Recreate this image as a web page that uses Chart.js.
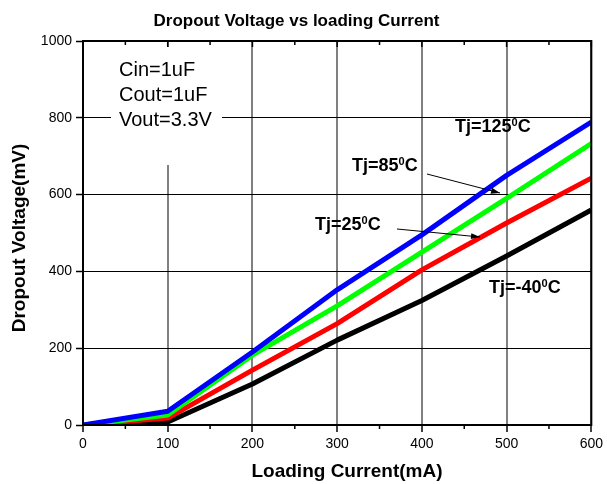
<!DOCTYPE html>
<html>
<head>
<meta charset="utf-8">
<script src="https://cdn.jsdelivr.net/npm/chart.js@4/dist/chart.umd.min.js"></script>
<style>
html,body{margin:0;padding:0;background:#fff;}
#wrap{width:607px;height:484px;}
</style>
</head>
<body>
<div id="wrap"><canvas id="c" width="607" height="484"></canvas></div>
<script>
const currents = [0, 100, 200, 300, 400, 500, 600];
const tj125 = [0, 36, 190, 352, 495, 650, 789];
const tj85  = [0, 26, 182, 310, 450, 590, 733];
const tj25  = [0, 18, 143, 264, 404, 526, 643];
const tjm40 = [0, 8, 107, 221, 324, 440, 560];
const seriesLabels = ['Tj=125', 'Tj=85', 'Tj=25', 'Tj=-40'];
const xTicks = [0, 100, 200, 300, 400, 500, 600];
const yTicks = [0, 200, 400, 600, 800, 1000];
const boxLines = ['Cin=1uF', 'Cout=1uF', 'Vout=3.3V'];

const FONT = '"Liberation Sans", Arial, sans-serif';

function pts(arr){ return currents.map((x,i)=>({x:x, y:arr[i]})); }

const extras = {
  id: 'extras',
  beforeDatasetsDraw(chart){
    const ctx = chart.ctx;
    ctx.save();
    ctx.fillStyle = '#fff';
    ctx.fillRect(111, 47, 111, 118);
    ctx.restore();
  },
  afterDraw(chart){
    const ctx = chart.ctx, xs = chart.scales.x;
    const a = chart.chartArea;
    ctx.save();
    ctx.strokeStyle = '#000';
    ctx.lineWidth = 2;
    ctx.strokeRect(a.left, a.top, a.right - a.left, a.bottom - a.top);
    ctx.lineWidth = 1.5;
    ctx.beginPath();
    for (let v = 50; v < 600; v += 100) {
      const px = xs.getPixelForValue(v);
      ctx.moveTo(px, a.bottom); ctx.lineTo(px, a.bottom + 4);
      ctx.moveTo(px, a.top); ctx.lineTo(px, a.top + 4);
    }
    xTicks.forEach(v => {
      const px = xs.getPixelForValue(v);
      ctx.moveTo(px, a.top); ctx.lineTo(px, a.top + 6);
    });
    ctx.stroke();

    ctx.fillStyle = '#000';
    ctx.font = '20px ' + FONT;
    ctx.textBaseline = 'alphabetic';
    ctx.textAlign = 'left';
    boxLines.forEach((t, i) => ctx.fillText(t, 119, 76 + i * 25));

    function sup(label, x, y){
      ctx.font = 'bold 18px ' + FONT;
      ctx.textAlign = 'left';
      ctx.textBaseline = 'alphabetic';
      ctx.fillText(label, x, y);
      let w = ctx.measureText(label).width;
      ctx.font = 'bold 11px ' + FONT;
      ctx.fillText('0', x + w, y - 6.5);
      w += ctx.measureText('0').width;
      ctx.font = 'bold 18px ' + FONT;
      ctx.fillText('C', x + w, y);
    }
    sup(seriesLabels[0], 455, 132);
    sup(seriesLabels[1], 352, 171);
    sup(seriesLabels[2], 315, 230);
    sup(seriesLabels[3], 489, 293);

    function arrow(x1, y1, x2, y2){
      ctx.strokeStyle = '#000';
      ctx.fillStyle = '#000';
      ctx.lineWidth = 1;
      ctx.beginPath(); ctx.moveTo(x1, y1); ctx.lineTo(x2, y2); ctx.stroke();
      const ang = Math.atan2(y2 - y1, x2 - x1);
      const L = 9, W = 3;
      ctx.beginPath();
      ctx.moveTo(x2, y2);
      ctx.lineTo(x2 - L*Math.cos(ang) + W*Math.sin(ang), y2 - L*Math.sin(ang) - W*Math.cos(ang));
      ctx.lineTo(x2 - L*Math.cos(ang) - W*Math.sin(ang), y2 - L*Math.sin(ang) + W*Math.cos(ang));
      ctx.closePath(); ctx.fill();
    }
    arrow(427, 174, 500, 193);
    arrow(397, 229, 480, 237);

    ctx.fillStyle = '#000';
    ctx.font = 'bold 19px ' + FONT;
    ctx.textAlign = 'center';
    ctx.textBaseline = 'alphabetic';
    ctx.fillText('Loading Current(mA)', 347, 477);
    ctx.save();
    ctx.translate(25, 238);
    ctx.rotate(-Math.PI/2);
    ctx.fillText('Dropout Voltage(mV)', 0, 0);
    ctx.restore();
    ctx.restore();
  }
};

new Chart(document.getElementById('c'), {
  type: 'line',
  data: {
    datasets: [
      {label: seriesLabels[0], data: pts(tj125), borderColor: '#0000ff'},
      {label: seriesLabels[1], data: pts(tj85),  borderColor: '#00ff00'},
      {label: seriesLabels[2], data: pts(tj25),  borderColor: '#ff0000'},
      {label: seriesLabels[3], data: pts(tjm40), borderColor: '#000000'}
    ].map(d => Object.assign(d, {borderWidth: 5, pointRadius: 0, tension: 0, fill: false, borderJoinStyle: 'round'}))
  },
  options: {
    responsive: false,
    animation: false,
    layout: {padding: {left: 0, right: 14, top: 0, bottom: 0}},
    plugins: {
      legend: {display: false},
      tooltip: {enabled: false},
      title: {
        display: true,
        text: 'Dropout Voltage vs loading Current',
        color: '#000',
        font: {family: FONT, size: 17, weight: 'bold'},
        padding: {top: 11, bottom: 9.6}
      }
    },
    scales: {
      x: {
        type: 'linear', min: 0, max: 600,
        afterFit: s => { s.height = 59; },
        afterBuildTicks: s => { s.ticks = xTicks.map(v => ({value: v})); },
        ticks: {color: '#000', font: {family: FONT, size: 14}, padding: 4, maxRotation: 0, callback: v => String(v)},
        grid: {color: '#808080', lineWidth: 2, tickColor: '#000', tickLength: 7, tickWidth: 1.5},
        border: {display: true, color: '#000', width: 2}
      },
      y: {
        min: 0, max: 1000,
        afterFit: s => { s.width = 83; },
        afterBuildTicks: s => { s.ticks = yTicks.map(v => ({value: v})); },
        ticks: {color: '#000', font: {family: FONT, size: 14}, padding: 4, callback: v => String(v)},
        grid: {color: '#000', lineWidth: 1, tickColor: '#000', tickLength: 7, tickWidth: 1.5},
        border: {display: true, color: '#000', width: 2}
      }
    }
  },
  plugins: [extras]
});
</script>
</body>
</html>
